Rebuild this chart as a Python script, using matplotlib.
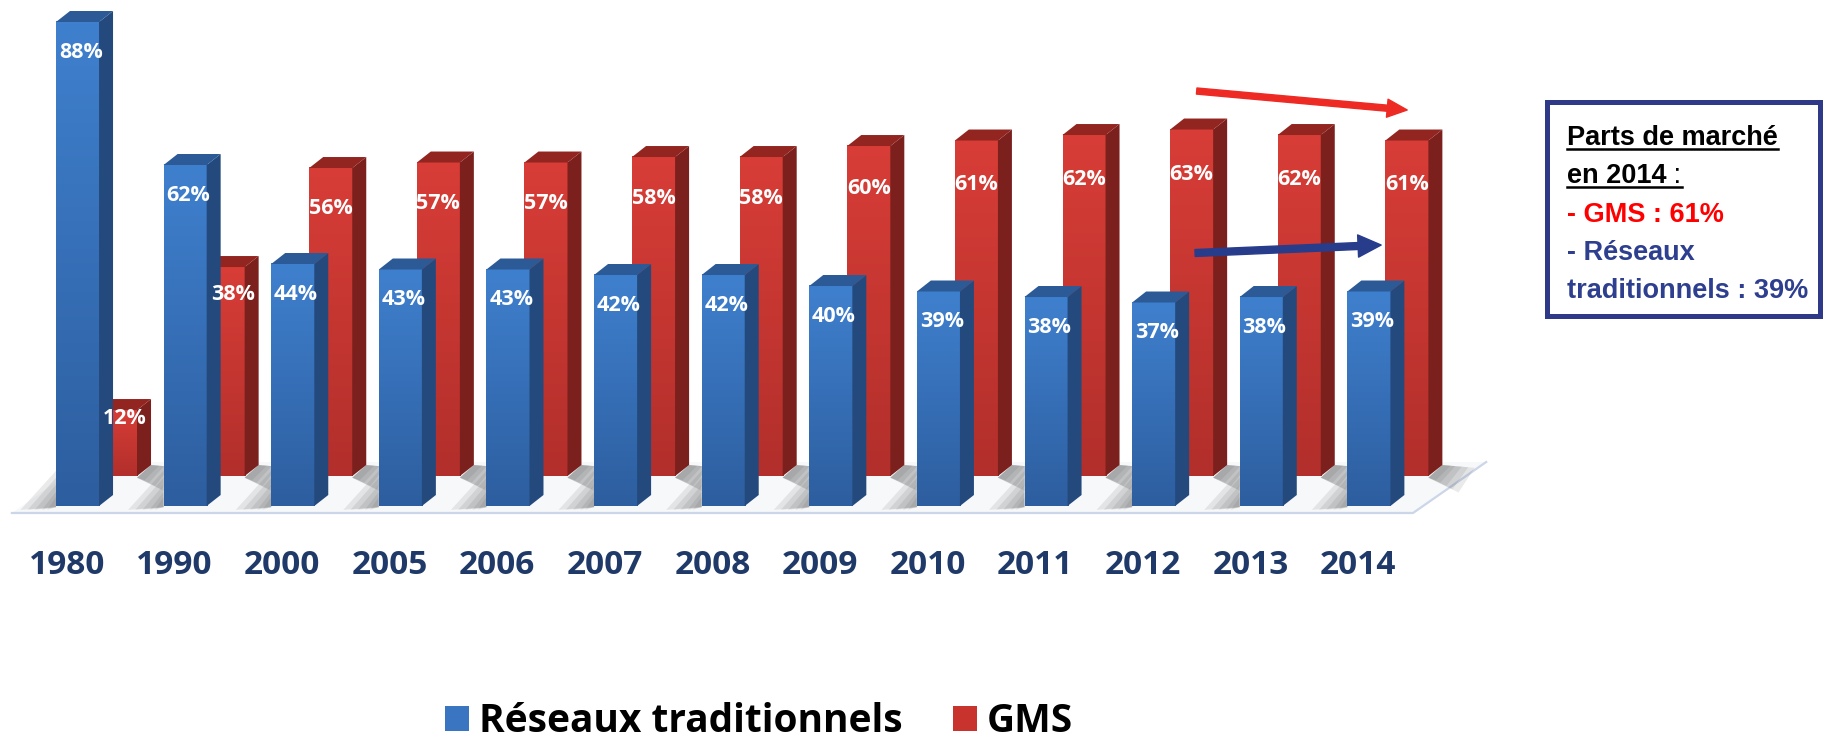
import numpy as np
import matplotlib
matplotlib.use('Agg')
import matplotlib.pyplot as plt
from matplotlib.colors import to_rgb
from matplotlib.lines import Line2D
from matplotlib.patches import Polygon, Rectangle, Patch, FancyArrowPatch, ArrowStyle

# données du graphique
years = ['1980', '1990', '2000', '2005', '2006', '2007', '2008',
         '2009', '2010', '2011', '2012', '2013', '2014']
reseaux = [88, 62, 44, 43, 43, 42, 42, 40, 39, 38, 37, 38, 39]
gms = [12, 38, 56, 57, 57, 58, 58, 60, 61, 62, 63, 62, 61]
series = ['Réseaux traditionnels', 'GMS']

box_title = ['Parts de marché', 'en 2014']
box_gms = '- GMS : 61%'
box_res = ['- Réseaux', 'traditionnels : 39%']

# géométrie du faux 3D (unités des axes)
W = 0.40            # largeur face avant
DX, DY = 0.13, 2.0  # profondeur
RX, RY = 0.353, 5.45  # décalage de la rangée GMS (derrière)

BLUE = dict(top='#3F80CE', bottom='#2D5E9F', side='#244A7D', cap='#2B5A97')
RED = dict(top='#D83D37', bottom='#B22F2B', side='#7B201D', cap='#932520')

FIG_W, FIG_H = 1823, 744


def grad(c1, c2, n=80):
    t = np.linspace(0, 1, n)[:, None]
    c = (1 - t) * np.array(to_rgb(c1)) + t * np.array(to_rgb(c2))
    return c[:, None, :]


def bar3d(ax, x, base, h, col, z):
    ax.imshow(grad(col['top'], col['bottom']), extent=[x, x + W, base, base + h],
              aspect='auto', interpolation='bilinear', zorder=z)
    side = [(x + W, base), (x + W + DX, base + DY), (x + W + DX, base + h + DY), (x + W, base + h)]
    top = [(x, base + h), (x + DX, base + h + DY), (x + W + DX, base + h + DY), (x + W, base + h)]
    ax.add_patch(Polygon(side, closed=True, fc=col['side'], ec='none', zorder=z))
    ax.add_patch(Polygon(top, closed=True, fc=col['cap'], ec='none', zorder=z))


def soft_shadow(ax, make_pts, z=2):
    # plusieurs couches transparentes pour un ombrage flou
    for f in [1.0, 0.8, 0.6, 0.4, 0.25]:
        ax.add_patch(Polygon(make_pts(f), closed=True, fc='#555555', ec='none',
                             alpha=0.12, zorder=z))


fig = plt.figure(figsize=(FIG_W / 100, FIG_H / 100), dpi=100)
ax = fig.add_axes([0, 0, 1, 1])
ax.set_xlim(-0.5204, 16.42)
ax.set_ylim(-43.27, 92.0)
ax.set_autoscale_on(False)
ax.axis('off')

n = len(years)

# sol
fx0, fx1 = -0.41, n - 1 + W + 0.21
floor = [(fx0, -1.27), (fx1, -1.27), (fx1 + 0.68, 8.0), (fx0 + 0.68, 8.0)]
ax.add_patch(Polygon(floor, closed=True, fc='#F7F8FA', ec='none', zorder=1))
ax.plot([fx0, fx1, fx1 + 0.68], [-1.27, -1.27, 8.0], color='#CBD6E8', lw=1.6, zorder=1.5)

# barres GMS (rangée arrière)
for i, g in enumerate(gms):
    xr = i + RX + W
    soft_shadow(ax, lambda f, xr=xr: [(xr, RY - 0.3), (xr + DX, RY + DY),
                                      (xr + DX + 0.3 * f, RY + DY - 0.5 * f),
                                      (xr + 0.28 * f, RY - 3.0 * f)])
    bar3d(ax, i + RX, RY, g, RED, 3 + i * 0.01)

# barres réseaux traditionnels (rangée avant)
for i, r in enumerate(reseaux):
    soft_shadow(ax, lambda f, i=i: [(i, 6.4 * f), (i, -0.2), (i - 0.33 * f, -0.7)])
    bar3d(ax, i, 0, r, BLUE, 4 + i * 0.01)

lab_font = dict(family='Open Sans', weight='bold')

# étiquettes de valeurs
for i, (r, g) in enumerate(zip(reseaux, gms)):
    ax.text(i + W / 2 + 0.03, r - 5.5, f'{r}%', color='white', fontsize=15.5,
            ha='center', va='center', zorder=10, **lab_font)
    yl = RY + 0.87 * g
    if yl < r + DY:
        xl = (i + W + DX + i + RX + W) / 2   # partie visible derrière la barre bleue
    else:
        xl = i + RX + W / 2
    ax.text(xl, yl, f'{g}%', color='white', fontsize=15.5,
            ha='center', va='center', zorder=10, **lab_font)

# années
for i, y in enumerate(years):
    ax.text(i + 0.1, -10.9, y, color='#1F3A68', fontsize=24,
            ha='center', va='center', **lab_font)

# flèches de tendance
ax.add_patch(FancyArrowPatch((10.60, 75.45), (12.556, 72.0),
                             arrowstyle=ArrowStyle.Simple(head_length=0.72, head_width=0.65, tail_width=0.22),
                             mutation_scale=20, color='#EE2A24', shrinkA=0, shrinkB=0, zorder=11))
ax.add_patch(FancyArrowPatch((10.585, 46.0), (12.314, 47.45),
                             arrowstyle=ArrowStyle.Simple(head_length=0.83, head_width=0.8, tail_width=0.25),
                             mutation_scale=20, color='#283C8C', shrinkA=0, shrinkB=0, zorder=11))

# encadré
fig.add_artist(Rectangle((1547 / FIG_W, 1 - 316 / FIG_H), (1820 - 1547) / FIG_W, (316 - 102) / FIG_H,
                         transform=fig.transFigure, fc='white', ec='#2E3A87', lw=3.6))

box_font = 'Liberation Sans'
bfs = 19.5
tx = 1567 / FIG_W
base_px = [145, 183, 222, 260, 298]
t1 = fig.text(tx, 1 - base_px[0] / FIG_H, box_title[0], family=box_font, weight='bold',
              fontsize=bfs, color='black', va='baseline')
t2 = fig.text(tx, 1 - base_px[1] / FIG_H, box_title[1], family=box_font, weight='bold',
              fontsize=bfs, color='black', va='baseline')
fig.text(tx, 1 - base_px[2] / FIG_H, box_gms, family=box_font, weight='bold',
         fontsize=bfs, color='#FF0000', va='baseline')
fig.text(tx, 1 - base_px[3] / FIG_H, box_res[0], family=box_font, weight='bold',
         fontsize=bfs, color='#2E3F8F', va='baseline')
fig.text(tx, 1 - base_px[4] / FIG_H, box_res[1], family=box_font, weight='bold',
         fontsize=bfs, color='#2E3F8F', va='baseline')

fig.canvas.draw()
rend = fig.canvas.get_renderer()
bb2 = t2.get_window_extent(rend)
t3 = fig.text(bb2.x1 / FIG_W, 1 - base_px[1] / FIG_H, ' :', family=box_font,
              fontsize=bfs, color='black', va='baseline')
fig.canvas.draw()
bb1 = t1.get_window_extent(rend)
bb3 = t3.get_window_extent(rend)
for x0, x1, b in [(bb1.x0, bb1.x1, base_px[0]), (bb2.x0, bb3.x1, base_px[1])]:
    yy = 1 - (b + 4) / FIG_H
    fig.add_artist(Line2D([x0 / FIG_W, x1 / FIG_W], [yy, yy], transform=fig.transFigure,
                          color='black', lw=1.8))

# légende
handles = [Patch(fc='#3A75C2'), Patch(fc='#C8332E')]
fig.legend(handles=handles, labels=series, loc='center', bbox_to_anchor=(0.4165, 0.03),
           ncol=2, frameon=False, prop=dict(family='Open Sans', weight='bold', size=28),
           handlelength=0.62, handleheight=0.62, handletextpad=0.25, columnspacing=1.3,
           borderpad=0, borderaxespad=0)

fig.savefig('out.png', dpi=100)
